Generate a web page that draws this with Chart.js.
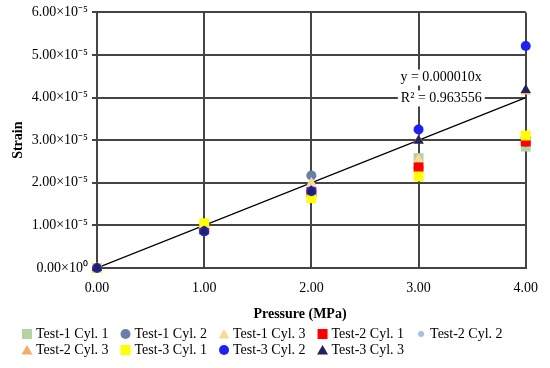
<!DOCTYPE html>
<html><head><meta charset="utf-8">
<script src="https://cdn.jsdelivr.net/npm/chart.js@4/dist/chart.umd.min.js"></script>
<style>html,body{margin:0;padding:0;background:#fff;}#wrap{width:550px;height:368px;}</style>
</head><body><div id="wrap"><canvas id="c" width="550" height="368"></canvas></div>
<script>
// ---- data ----
const pressures = [0, 1, 2, 3, 4];
const seriesNames = ["Test-1 Cyl. 1","Test-1 Cyl. 2","Test-1 Cyl. 3","Test-2 Cyl. 1","Test-2 Cyl. 2","Test-2 Cyl. 3","Test-3 Cyl. 1","Test-3 Cyl. 2","Test-3 Cyl. 3"];
const test1Cyl1 = [0, 0.95e-5, 1.80e-5, 2.58e-5, 2.85e-5];
const test1Cyl2 = [0, 0.90e-5, 2.17e-5, 2.36e-5, 2.96e-5];
const test1Cyl3 = [0, 0.95e-5, 2.00e-5, 2.55e-5, 4.15e-5];
const test2Cyl1 = [0, 0.92e-5, 1.78e-5, 2.36e-5, 2.97e-5];
const test2Cyl2 = [0, 0.90e-5, 1.80e-5, 2.15e-5, 3.11e-5];
const test2Cyl3 = [0, 0.88e-5, 1.80e-5, 3.00e-5, 4.15e-5];
const test3Cyl1 = [0, 1.05e-5, 1.64e-5, 2.15e-5, 3.11e-5];
const test3Cyl2 = [0, 0.86e-5, 1.80e-5, 3.25e-5, 5.21e-5];
const test3Cyl3 = [0, 0.86e-5, 1.80e-5, 2.99e-5, 4.18e-5];
const xTickLabels = ["0.00","1.00","2.00","3.00","4.00"];
const yTickLabels = ["0.00×10⁰","1.00×10⁻⁵","2.00×10⁻⁵","3.00×10⁻⁵","4.00×10⁻⁵","5.00×10⁻⁵","6.00×10⁻⁵"];
const trendX = [0, 4];
const trendY = [0, 4.0e-5];
const trendText = ["y = 0.000010x", "R² = 0.963556"];
const xTitle = "Pressure (MPa)";
const yTitle = "Strain";

// ---- styles ----
const allSeries = [test1Cyl1,test1Cyl2,test1Cyl3,test2Cyl1,test2Cyl2,test2Cyl3,test3Cyl1,test3Cyl2,test3Cyl3];
const styles = [
  {shape:'rect', color:'#b3d3a3', r:7},
  {shape:'circle', color:'#6a7ea6', r:5},
  {shape:'triangle', color:'#f4dc98', r:6},
  {shape:'rect', color:'#ff0000', r:7},
  {shape:'circle', color:'#9dc3e6', r:3},
  {shape:'triangle', color:'#f2ad6a', r:6},
  {shape:'rect', color:'#ffff00', r:7},
  {shape:'circle', color:'#2020f0', r:5},
  {shape:'triangle', color:'#22225e', r:6}
];
const FONT = "'Liberation Serif', 'Times New Roman', serif";

const datasets = allSeries.map((arr, i) => ({
  type: 'scatter',
  label: seriesNames[i],
  data: pressures.map((p, j) => ({x: p, y: arr[j]})),
  pointStyle: styles[i].shape,
  pointRadius: styles[i].r,
  pointHoverRadius: styles[i].r,
  backgroundColor: styles[i].color,
  borderColor: styles[i].color,
  borderWidth: 0,
  clip: false,
  order: 20 - i
}));
datasets.push({
  type: 'line',
  label: 'trend',
  data: trendX.map((x, j) => ({x: x, y: trendY[j]})),
  borderColor: '#000',
  borderWidth: 1.2,
  pointRadius: 0,
  fill: false,
  order: 50
});

const annotLegendPlugin = {
  id: 'annotLegend',
  afterDraw(chart) {
    const ctx = chart.ctx;
    const xs = chart.scales.x, ys = chart.scales.y;
    ctx.save();
    // trend equation text
    ctx.font = "14px " + FONT;
    ctx.textAlign = 'right';
    ctx.textBaseline = 'middle';
    const tx = xs.getPixelForValue(3.59);
    const ty = [ys.getPixelForValue(4.47e-5), ys.getPixelForValue(3.98e-5)];
    trendText.forEach((t, k) => {
      const w = ctx.measureText(t).width;
      ctx.fillStyle = '#fff';
      ctx.fillRect(tx - w - 3, ty[k] - 8, w + 6, 16);
      ctx.fillStyle = '#000';
      ctx.fillText(t, tx, ty[k]);
    });
    // x axis title
    ctx.font = "bold 14px " + FONT;
    ctx.textAlign = 'center';
    ctx.fillText(xTitle, 300, 314);
    // legend
    ctx.font = "14px " + FONT;
    ctx.textAlign = 'left';
    const perRow = 5;
    const rowY = [334, 350];
    const startX = 22;
    let x = startX;
    seriesNames.forEach((name, i) => {
      const row = Math.floor(i / perRow), col = i % perRow;
      if (col === 0) x = startX;
      const y = rowY[row];
      const s = styles[i];
      const cx = x + 5;
      ctx.fillStyle = s.color;
      ctx.beginPath();
      if (s.shape === 'rect') ctx.rect(x, y - 5, 10, 10);
      else if (s.shape === 'circle') ctx.arc(cx, y, s.r === 3 ? 3 : 5, 0, Math.PI * 2);
      else { ctx.moveTo(cx, y - 5); ctx.lineTo(cx - 5.5, y + 4.5); ctx.lineTo(cx + 5.5, y + 4.5); ctx.closePath(); }
      ctx.fill();
      ctx.fillStyle = '#000';
      ctx.fillText(name, x + 14, y);
      x += 14 + ctx.measureText(name).width + 12;
    });
    ctx.restore();
  }
};

const gridColor = '#444';
new Chart(document.getElementById('c'), {
  type: 'scatter',
  data: { datasets: datasets },
  options: {
    responsive: false,
    animation: false,
    devicePixelRatio: 1,
    layout: { padding: { top: 10, right: 15, bottom: 46, left: 0 } },
    plugins: { legend: { display: false }, tooltip: { enabled: false } },
    scales: {
      x: {
        type: 'linear', min: 0, max: 4,
        ticks: { stepSize: 1, color: '#000', font: { family: FONT, size: 14 }, padding: 12,
                 callback: (v, i) => xTickLabels[i] },
        grid: { color: gridColor, lineWidth: 2, drawTicks: false },
        border: { color: gridColor, width: 2 },
        afterFit: s => { s.height = 54; }
      },
      y: {
        type: 'linear', min: 0, max: 6e-5,
        ticks: { stepSize: 1e-5, color: '#000', font: { family: FONT, size: 14 }, padding: 4,
                 callback: (v, i) => yTickLabels[i] },
        grid: { color: gridColor, lineWidth: 2, tickLength: 5 },
        border: { color: gridColor, width: 2 },
        title: { display: true, text: yTitle, color: '#000', font: { family: FONT, size: 14, weight: 'bold' }, padding: { top: 10, bottom: 0 } },
        afterFit: s => { s.width = 97; }
      }
    }
  },
  plugins: [annotLegendPlugin]
});
</script></body></html>
